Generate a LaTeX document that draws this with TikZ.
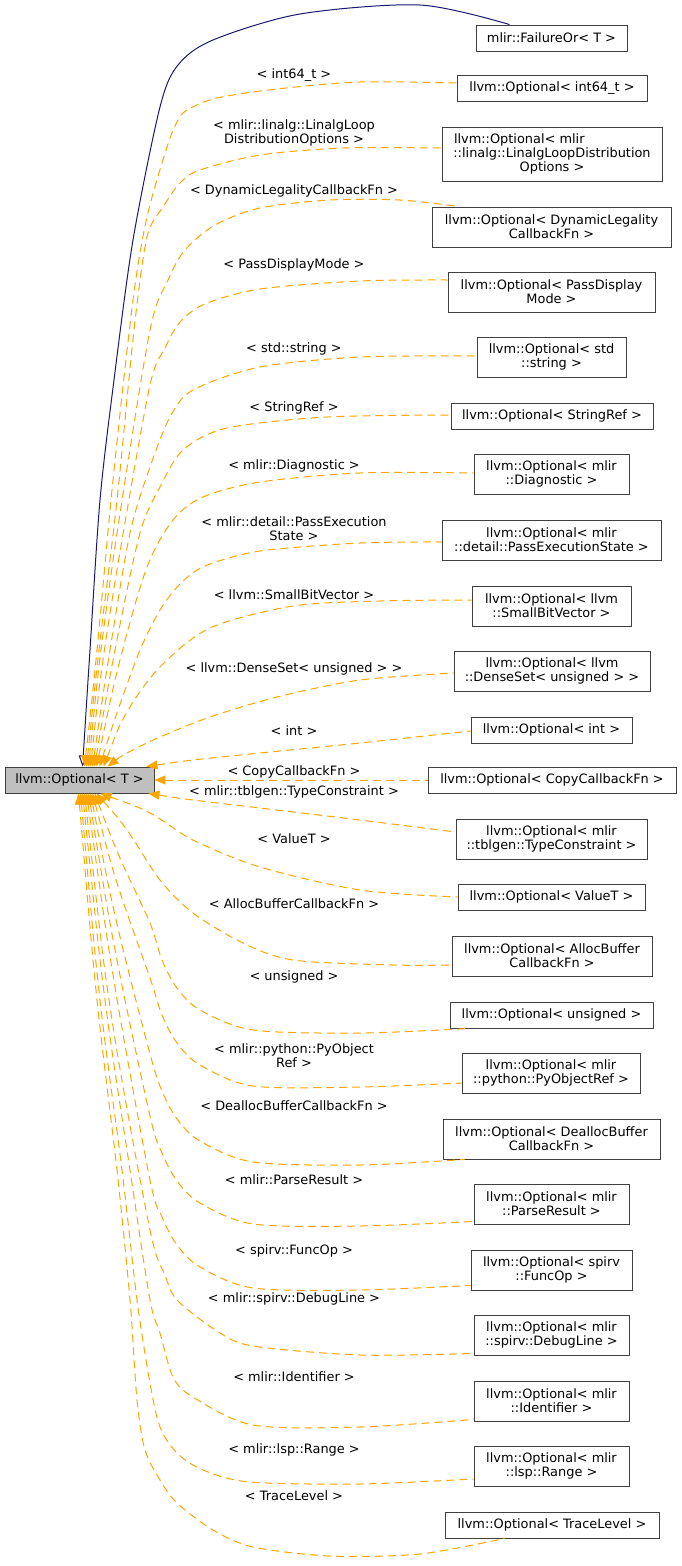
\documentclass[tikz,border=0pt]{standalone}
\usepackage{fontspec}
\setmainfont{DejaVu Sans}
\usetikzlibrary{arrows.meta}
\definecolor{edgeorange}{HTML}{FFA500}
\definecolor{edgeblue}{HTML}{191970}
\definecolor{boxgray}{HTML}{BFBFBF}
\definecolor{boxline}{HTML}{404040}
\tikzset{
  cls/.style={draw=boxline, line width=0.9pt, inner sep=0pt, align=center, text=black},
  lbl/.style={inner sep=0pt, align=center, text=black},
  oedge/.style={draw=edgeorange, line width=1pt, dash pattern=on 8pt off 5pt,
     {Triangle[length=11pt,width=9pt,fill=edgeorange]}-},
  bedge/.style={draw=edgeblue, line width=1pt,
     {Triangle[open,length=11pt,width=9pt]}-},
}
\newcommand\oplot[1]{\draw[oedge] plot[smooth, tension=0.5] coordinates {#1};}
\begin{document}
\begin{tikzpicture}[x=1pt,y=-1pt,font=\fontsize{12.9}{14}\selectfont]
\useasboundingbox (0,0) rectangle (681,1566);

% nodes
\node[cls, fill=boxgray, minimum width=149pt, minimum height=26pt] (main) at (79.5,780) {llvm::Optional< T >};
\node[cls, minimum width=151pt, minimum height=26pt] (n1) at (551.5,38) {mlir::FailureOr< T >};
\node[cls, minimum width=190pt, minimum height=26pt] (n2) at (552,88.5) {llvm::Optional< int64\_t >};
\node[cls, minimum width=220pt, minimum height=54pt] (n3) at (552,154) {\makebox[196pt][l]{llvm::Optional< mlir}\\::linalg::LinalgLoopDistribution\\Options >};
\node[cls, minimum width=239pt, minimum height=40pt] (n4) at (551.5,227) {llvm::Optional< DynamicLegality\\CallbackFn >};
\node[cls, minimum width=207pt, minimum height=40pt] (n5) at (551.5,292) {llvm::Optional< PassDisplay\\Mode >};
\node[cls, minimum width=149pt, minimum height=40pt] (n6) at (551.5,357) {llvm::Optional< std\\::string >};
\node[cls, minimum width=202pt, minimum height=26pt] (n7) at (552,416) {llvm::Optional< StringRef >};
\node[cls, minimum width=155pt, minimum height=40pt] (n8) at (551.5,474) {llvm::Optional< mlir\\::Diagnostic >};
\node[cls, minimum width=219pt, minimum height=40pt] (n9) at (551.5,540) {llvm::Optional< mlir\\::detail::PassExecutionState >};
\node[cls, minimum width=159pt, minimum height=40pt] (n10) at (551.5,606) {llvm::Optional< llvm\\::SmallBitVector >};
\node[cls, minimum width=196pt, minimum height=40pt] (n11) at (552,671) {llvm::Optional< llvm\\::DenseSet< unsigned > >};
\node[cls, minimum width=161pt, minimum height=26pt] (n12) at (551.5,730) {llvm::Optional< int >};
\node[cls, minimum width=248pt, minimum height=26pt] (n13) at (552,780) {llvm::Optional< CopyCallbackFn >};
\node[cls, minimum width=191pt, minimum height=40pt] (n14) at (551.5,839) {llvm::Optional< mlir\\::tblgen::TypeConstraint >};
\node[cls, minimum width=187pt, minimum height=26pt] (n15) at (551.5,897) {llvm::Optional< ValueT >};
\node[cls, minimum width=200pt, minimum height=40pt] (n16) at (552,956) {llvm::Optional< AllocBuffer\\CallbackFn >};
\node[cls, minimum width=203pt, minimum height=26pt] (n17) at (551.5,1015) {llvm::Optional< unsigned >};
\node[cls, minimum width=178pt, minimum height=40pt] (n18) at (551,1073) {llvm::Optional< mlir\\::python::PyObjectRef >};
\node[cls, minimum width=217pt, minimum height=40pt] (n19) at (551.5,1139) {llvm::Optional< DeallocBuffer\\CallbackFn >};
\node[cls, minimum width=155pt, minimum height=40pt] (n20) at (551.5,1204) {llvm::Optional< mlir\\::ParseResult >};
\node[cls, minimum width=161pt, minimum height=40pt] (n21) at (551.5,1270) {llvm::Optional< spirv\\::FuncOp >};
\node[cls, minimum width=155pt, minimum height=40pt] (n22) at (551.5,1335) {llvm::Optional< mlir\\::spirv::DebugLine >};
\node[cls, minimum width=155pt, minimum height=40pt] (n23) at (551.5,1401) {llvm::Optional< mlir\\::Identifier >};
\node[cls, minimum width=155pt, minimum height=40pt] (n24) at (551.5,1466) {llvm::Optional< mlir\\::lsp::Range >};
\node[cls, minimum width=214pt, minimum height=26pt] (n25) at (552,1525) {llvm::Optional< TraceLevel >};

% labels
\node[lbl] (l2) at (294,75) {< int64\_t >};
\node[lbl] (l3) at (294,133) {< mlir::linalg::LinalgLoop\\DistributionOptions >};
\node[lbl] (l4) at (294,191) {< DynamicLegalityCallbackFn >};
\node[lbl] (l5) at (294,265) {< PassDisplayMode >};
\node[lbl] (l6) at (294,349) {< std::string >};
\node[lbl] (l7) at (294,408) {< StringRef >};
\node[lbl] (l8) at (294,466) {< mlir::Diagnostic >};
\node[lbl] (l9) at (294,529) {< mlir::detail::PassExecution\\State >};
\node[lbl] (l10) at (294,595) {< llvm::SmallBitVector >};
\node[lbl] (l11) at (294,669) {< llvm::DenseSet< unsigned > >};
\node[lbl] (l12) at (294,731) {< int >};
\node[lbl] (l13) at (294,772) {< CopyCallbackFn >};
\node[lbl] (l14) at (294,792) {< mlir::tblgen::TypeConstraint >};
\node[lbl] (l15) at (294,839) {< ValueT >};
\node[lbl] (l16) at (294,904) {< AllocBufferCallbackFn >};
\node[lbl] (l17) at (294,977) {< unsigned >};
\node[lbl] (l18) at (294,1056) {< mlir::python::PyObject\\Ref >};
\node[lbl] (l19) at (294,1106) {< DeallocBufferCallbackFn >};
\node[lbl] (l20) at (294,1180) {< mlir::ParseResult >};
\node[lbl] (l21) at (294,1251) {< spirv::FuncOp >};
\node[lbl] (l22) at (294,1299) {< mlir::spirv::DebugLine >};
\node[lbl] (l23) at (294,1377) {< mlir::Identifier >};
\node[lbl] (l24) at (294,1450) {< mlir::lsp::Range >};
\node[lbl] (l25) at (294,1496) {< TraceLevel >};

% attach points on the derived nodes
\coordinate (t1) at ([xshift=34pt]n1.north west);
\coordinate (t2) at ([yshift=5.5pt]n2.west);
\coordinate (t3) at ([yshift=6pt]n3.west);
\coordinate (t4) at ([xshift=28pt]n4.north west);
\coordinate (t5) at ([yshift=12pt]n5.west);
\coordinate (t6) at ([yshift=1pt]n6.west);
\coordinate (t7) at ([yshift=1pt]n7.west);
\coordinate (t8) at ([yshift=1pt]n8.west);
\coordinate (t9) at ([yshift=-2pt]n9.west);
\coordinate (t10) at ([yshift=6pt]n10.west);
\coordinate (t11) at ([yshift=-2pt]n11.west);
\coordinate (t12) at ([yshift=-1pt]n12.west);
\coordinate (t14) at ([yshift=7pt]n14.west);
\coordinate (t15) at (n15.west);
\coordinate (t16) at ([yshift=-9pt]n16.west);
\coordinate (t17) at ([xshift=20pt]n17.south west);
\coordinate (t18) at ([yshift=-10pt]n18.west);
\coordinate (t19) at ([xshift=22pt]n19.south west);
\coordinate (t20) at ([yshift=3pt]n20.south west);
\coordinate (t21) at ([yshift=5pt]n21.south west);
\coordinate (t22) at ([yshift=2pt]n22.south west);
\coordinate (t23) at ([yshift=2pt]n23.south west);
\coordinate (t24) at ([yshift=-13pt]n24.west);
\coordinate (t25) at ([xshift=60pt]n25.south west);

% entry points on the base node
\coordinate (m1) at ([xshift=78pt]main.north west);
\coordinate (m2) at ([xshift=80pt]main.north west);
\coordinate (m3) at ([xshift=82pt]main.north west);
\coordinate (m4) at ([xshift=84pt]main.north west);
\coordinate (m5) at ([xshift=86pt]main.north west);
\coordinate (m6) at ([xshift=88pt]main.north west);
\coordinate (m7) at ([xshift=90pt]main.north west);
\coordinate (m8) at ([xshift=92pt]main.north west);
\coordinate (m9) at ([xshift=95pt]main.north west);
\coordinate (m10) at ([xshift=99pt]main.north west);
\coordinate (m11) at ([xshift=103pt]main.north west);
\coordinate (m12) at ([xshift=-8pt]main.north east);
\coordinate (m14) at ([xshift=-6pt]main.south east);
\coordinate (m15) at ([xshift=96pt]main.south west);
\coordinate (m16) at ([xshift=92pt]main.south west);
\coordinate (m17) at ([xshift=90pt]main.south west);
\coordinate (m18) at ([xshift=88pt]main.south west);
\coordinate (m19) at ([xshift=86pt]main.south west);
\coordinate (m20) at ([xshift=84pt]main.south west);
\coordinate (m21) at ([xshift=82pt]main.south west);
\coordinate (m22) at ([xshift=80pt]main.south west);
\coordinate (m23) at ([xshift=78pt]main.south west);
\coordinate (m24) at ([xshift=76pt]main.south west);
\coordinate (m25) at ([xshift=74pt]main.south west);

% blue inheritance edge
\draw[bedge] plot[smooth, tension=0.5] coordinates {(m1) (90,650) (100,500) (114,380) (133,240) (160,107) (178,65) (213,40) (300,14) (420,5) (t1)};

% orange template edges
\oplot{(m2) (97,650) (113,480) (133,300) (147,217) (167,147) (177,122) (187,110) (217,98) (277,89) (360,82) (t2)}
\oplot{(m3) (99,650) (117,500) (134,330) (147,237) (163,207) (180,183) (200,170) (260,155) (343,148) (t3)}
\oplot{(m4) (101,650) (119,520) (150,330) (168,280) (185,250) (215,225) (260,208) (330,200) (400,200) (t4)}
\oplot{(m5) (103,660) (122,540) (150,385) (165,348) (180,322) (205,304) (260,289) (360,281) (t5)}
\oplot{(m6) (110,650) (130,533) (150,467) (170,417) (193,390) (260,367) (360,357) (t6)}
\oplot{(m7) (115,650) (140,533) (160,487) (183,450) (227,428) (327,417) (t7)}
\oplot{(m8) (120,660) (147,567) (173,520) (203,497) (260,482) (360,473) (t8)}
\oplot{(m9) (118,710) (140,650) (160,610) (180,584) (205,566) (260,551) (360,543) (t9)}
\oplot{(m10) (127,712) (160,667) (210,628) (293,606) (380,601) (t10)}
\oplot{(m11) (127,753) (160,737) (210,717) (277,697) (360,680) (t11)}
\oplot{(m12) (193,760) (260,753) (360,743) (t12)}
\draw[oedge] (main.east) -- (n13.west);
\oplot{(m14) (193,800) (260,808) (360,820) (t14)}
\oplot{(m15) (150,813) (193,840) (260,867) (360,890) (t15)}
\oplot{(m16) (127,830) (160,880) (193,913) (243,943) (293,960) (393,965) (t16)}
\oplot{(m17) (120,858) (150,923) (162,960) (177,988) (200,1010) (253,1030) (360,1033) (t17)}
\oplot{(m18) (118,886) (150,978) (162,1015) (177,1043) (200,1065) (253,1086) (360,1087) (t18)}
\oplot{(m19) (117,924) (150,1054) (162,1091) (177,1119) (200,1141) (253,1162) (360,1165) (t19)}
\oplot{(m20) (116,955) (150,1116) (162,1153) (177,1181) (200,1203) (253,1224) (360,1226) (t20)}
\oplot{(m21) (115,987) (150,1180) (162,1217) (177,1245) (200,1267) (253,1288) (360,1290) (t21)}
\oplot{(m22) (112,1020) (150,1230) (165,1275) (177,1300) (217,1331) (253,1346) (360,1355) (t22)}
\oplot{(m23) (105,1000) (130,1170) (150,1300) (160,1333) (173,1377) (193,1397) (253,1425) (360,1427) (t23)}
\oplot{(m24) (100,1000) (122,1170) (137,1300) (150,1383) (160,1427) (177,1453) (203,1470) (250,1482) (360,1484) (t24)}
\oplot{(m25) (97,1000) (117,1170) (130,1300) (137,1400) (145,1450) (160,1480) (177,1503) (213,1530) (253,1547) (330,1556) (420,1554) (t25)}
\end{tikzpicture}
\end{document}
